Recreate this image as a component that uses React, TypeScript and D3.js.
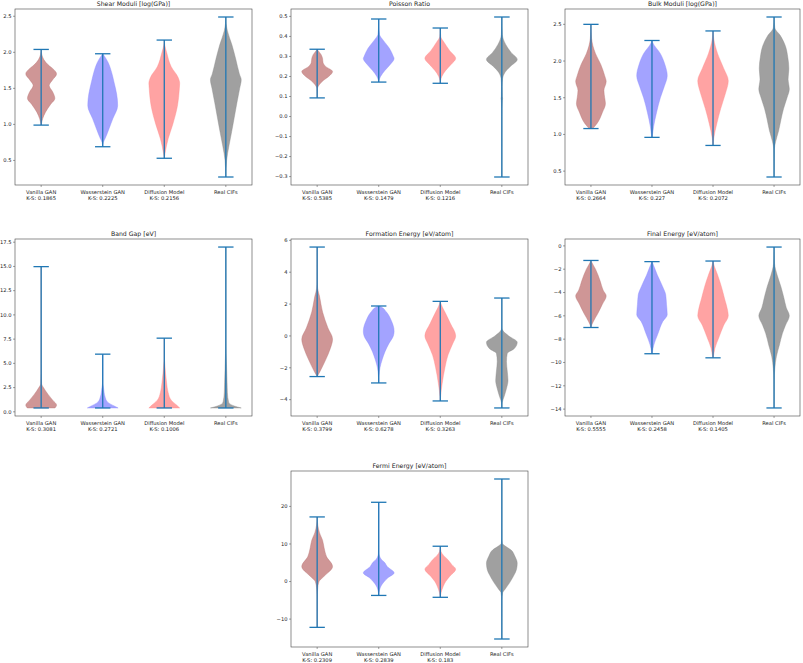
import React from 'react';
import * as d3 from 'd3';

const categories = ['Vanilla GAN', 'Wasserstein GAN', 'Diffusion Model', 'Real CIFs'];
const fillColors = ['#cf9696', '#a3a3ff', '#ffa3a3', '#a0a0a0'];
const edgeColors = ['#b87474', '#8a8aff', '#ff8a8a', '#8a8a8a'];
const lineColor = '#1f77b4';

// ---- Shear Moduli ----
const shearKS = ['0.1865', '0.2225', '0.2156'];
const shearCaps = [[0.99, 2.04], [0.69, 1.98], [0.53, 2.17], [0.27, 2.49]];
const shearTicks = [0.5, 1.0, 1.5, 2.0, 2.5];
const shearProfiles = [
  [[0.99, 0], [1.08, 0.1], [1.17, 0.28], [1.28, 0.62], [1.36, 0.89], [1.45, 0.75], [1.54, 0.52], [1.62, 0.75], [1.70, 1.0], [1.78, 0.72], [1.81, 0.54], [1.90, 0.17], [1.97, 0.04], [2.04, 0]],
  [[0.69, 0], [0.75, 0.04], [0.81, 0.17], [0.94, 0.41], [1.08, 0.66], [1.26, 0.97], [1.35, 0.95], [1.49, 0.84], [1.60, 0.72], [1.72, 0.58], [1.86, 0.35], [1.95, 0.1], [1.98, 0]],
  [[0.53, 0], [0.6, 0.05], [0.8, 0.25], [1.0, 0.55], [1.25, 0.85], [1.5, 0.98], [1.57, 1.0], [1.65, 0.9], [1.8, 0.45], [2.0, 0.15], [2.1, 0.03], [2.17, 0]],
  [[0.27, 0], [0.5, 0.05], [0.7, 0.2], [0.9, 0.38], [1.1, 0.55], [1.3, 0.72], [1.5, 0.9], [1.62, 1.0], [1.7, 0.88], [1.9, 0.65], [2.1, 0.4], [2.3, 0.1], [2.4, 0.02], [2.49, 0]],
];

// ---- Poisson Ratio ----
const poissonKS = ['0.5385', '0.1479', '0.1216'];
const poissonCaps = [[0.093, 0.336], [0.172, 0.487], [0.166, 0.442], [-0.302, 0.497]];
const poissonTicks = [-0.3, -0.2, -0.1, 0.0, 0.1, 0.2, 0.3, 0.4, 0.5];
const poissonProfiles = [
  [[0.093, 0], [0.14, 0.02], [0.16, 0.15], [0.18, 0.4], [0.2, 0.75], [0.225, 1.0], [0.25, 0.55], [0.27, 0.38], [0.29, 0.35], [0.31, 0.25], [0.33, 0.05], [0.336, 0]],
  [[0.172, 0], [0.18, 0.02], [0.2, 0.12], [0.23, 0.4], [0.26, 0.75], [0.29, 1.0], [0.30, 0.95], [0.34, 0.7], [0.38, 0.3], [0.41, 0.05], [0.45, 0.01], [0.487, 0]],
  [[0.166, 0], [0.18, 0.02], [0.2, 0.1], [0.23, 0.35], [0.26, 0.7], [0.29, 1.0], [0.33, 0.6], [0.37, 0.25], [0.40, 0.03], [0.442, 0]],
  [[-0.302, 0], [0.0, 0.005], [0.08, 0.03], [0.09, 0.05], [0.1, 0.03], [0.15, 0.02], [0.19, 0.05], [0.22, 0.2], [0.25, 0.55], [0.285, 1.0], [0.32, 0.6], [0.36, 0.25], [0.41, 0.03], [0.497, 0]],
];

// ---- Bulk Moduli ----
const bulkKS = ['0.2664', '0.227', '0.2072'];
const bulkCaps = [[1.08, 2.50], [0.96, 2.28], [0.85, 2.41], [0.42, 2.60]];
const bulkTicks = [0.5, 1.0, 1.5, 2.0, 2.5];
const bulkProfiles = [
  [[1.08, 0.12], [1.15, 0.4], [1.3, 0.75], [1.42, 0.95], [1.5, 0.9], [1.6, 0.85], [1.72, 1.0], [1.8, 0.9], [1.95, 0.65], [2.1, 0.3], [2.31, 0.04], [2.5, 0]],
  [[0.96, 0], [0.98, 0.02], [1.1, 0.1], [1.3, 0.3], [1.5, 0.55], [1.65, 0.8], [1.8, 1.0], [1.95, 0.85], [2.1, 0.55], [2.25, 0.05], [2.28, 0]],
  [[0.85, 0], [0.95, 0.05], [1.15, 0.25], [1.35, 0.5], [1.55, 0.8], [1.73, 1.0], [1.9, 0.7], [2.1, 0.3], [2.3, 0.05], [2.41, 0]],
  [[0.42, 0], [0.8, 0.02], [0.9, 0.1], [1.05, 0.3], [1.2, 0.45], [1.35, 0.62], [1.5, 0.85], [1.62, 1.0], [1.75, 0.92], [1.9, 0.97], [2.05, 0.9], [2.2, 0.75], [2.35, 0.4], [2.45, 0.05], [2.6, 0]],
];

// ---- Band Gap ----
const bandKS = ['0.3081', '0.2721', '0.1006'];
const bandCaps = [[0.4, 14.98], [0.4, 5.95], [0.4, 7.6], [0.4, 17.0]];
const bandTicks = [0.0, 2.5, 5.0, 7.5, 10.0, 12.5, 15.0, 17.5];
const bandProfiles = [
  [[0.4, 0.9], [0.7, 1.0], [1.2, 0.75], [1.8, 0.45], [2.5, 0.15], [2.9, 0.03], [5, 0.003], [14.98, 0]],
  [[0.4, 1.0], [0.6, 0.75], [1.0, 0.32], [1.5, 0.16], [2.5, 0.05], [3.0, 0.01], [5.95, 0]],
  [[0.4, 1.0], [0.7, 0.8], [1.2, 0.45], [2.0, 0.25], [3.0, 0.15], [4.0, 0.08], [5.0, 0.03], [5.5, 0.005], [7.6, 0]],
  [[0.4, 1.0], [0.6, 0.55], [1.0, 0.18], [2.0, 0.1], [3.0, 0.08], [4.5, 0.05], [6, 0.02], [8, 0.002], [17.0, 0]],
];

// ---- Formation Energy ----
const formKS = ['0.3799', '0.6278', '0.3263'];
const formCaps = [[-2.55, 5.58], [-2.95, 1.88], [-4.08, 2.17], [-4.52, 2.38]];
const formTicks = [-4, -2, 0, 2, 4, 6];
const formProfiles = [
  [[-2.55, 0], [-2.5, 0.03], [-2.2, 0.2], [-1.5, 0.55], [-0.8, 0.85], [-0.2, 1.0], [0.5, 0.7], [1.5, 0.35], [2.5, 0.15], [3.0, 0.03], [3.5, 0.005], [5.58, 0]],
  [[-2.95, 0], [-2.5, 0.02], [-2.0, 0.08], [-1.5, 0.22], [-1.0, 0.4], [-0.5, 0.65], [0.0, 0.95], [0.3, 1.0], [1.0, 0.8], [1.5, 0.5], [1.85, 0.1], [1.88, 0]],
  [[-4.08, 0], [-3.8, 0.02], [-3.0, 0.12], [-2.0, 0.3], [-1.2, 0.5], [-0.5, 0.8], [0.0, 1.0], [0.8, 0.65], [1.5, 0.3], [2.0, 0.05], [2.17, 0]],
  [[-4.52, 0], [-4.2, 0.02], [-3.8, 0.15], [-3.3, 0.3], [-2.8, 0.4], [-2.2, 0.35], [-1.6, 0.3], [-1.1, 0.35], [-0.8, 0.8], [-0.4, 1.0], [0.0, 0.45], [0.4, 0.03], [0.6, 0], [2.38, 0]],
];

// ---- Final Energy ----
const finalKS = ['0.5555', '0.2458', '0.1405'];
const finalCaps = [[-7.0, -1.25], [-9.25, -1.35], [-9.6, -1.3], [-13.9, -0.1]];
const finalTicks = [-14, -12, -10, -8, -6, -4, -2, 0];
const finalProfiles = [
  [[-7.0, 0], [-6.9, 0.02], [-6.5, 0.15], [-5.8, 0.45], [-5.0, 0.75], [-4.3, 1.0], [-3.8, 0.8], [-3.0, 0.6], [-2.0, 0.3], [-1.4, 0.05], [-1.25, 0]],
  [[-9.25, 0], [-9.1, 0.02], [-8.5, 0.12], [-7.5, 0.4], [-6.5, 0.7], [-5.9, 1.0], [-5.0, 0.95], [-4.2, 0.9], [-3.5, 0.7], [-2.5, 0.35], [-1.5, 0.05], [-1.35, 0]],
  [[-9.6, 0], [-9.5, 0.02], [-8.8, 0.12], [-7.8, 0.4], [-6.8, 0.7], [-6.0, 1.0], [-5.5, 0.95], [-4.5, 0.75], [-3.5, 0.55], [-2.5, 0.3], [-1.5, 0.03], [-1.3, 0]],
  [[-13.9, 0], [-11.5, 0.01], [-10.5, 0.05], [-9.5, 0.15], [-8.5, 0.35], [-7.5, 0.55], [-6.8, 0.75], [-6.0, 1.0], [-5.3, 0.8], [-4.5, 0.65], [-3.5, 0.45], [-2.5, 0.2], [-1.5, 0.03], [-0.1, 0]],
];

// ---- Fermi Energy ----
const fermiKS = ['0.2309', '0.2839', '0.183'];
const fermiCaps = [[-12.2, 17.2], [-3.7, 21.1], [-4.2, 9.4], [-15.3, 27.3]];
const fermiTicks = [-10, 0, 10, 20];
const fermiProfiles = [
  [[-12.2, 0], [-5, 0.005], [-2, 0.03], [0, 0.12], [1.4, 0.45], [4, 1.0], [6.7, 0.6], [9, 0.45], [11, 0.35], [13, 0.15], [15, 0.04], [17.2, 0]],
  [[-3.7, 0], [-3, 0.02], [-1.2, 0.15], [1, 0.6], [2.3, 1.0], [4, 0.55], [5, 0.4], [6, 0.15], [7.5, 0.02], [10, 0.003], [21.1, 0]],
  [[-4.2, 0], [-3, 0.05], [-1.2, 0.2], [0, 0.35], [1.4, 0.62], [3.3, 1.0], [4.5, 0.75], [5.8, 0.5], [7, 0.2], [8, 0.05], [9.4, 0]],
  [[-15.3, 0], [-5, 0.01], [-3, 0.05], [-2.1, 0.2], [-0.35, 0.5], [1.4, 0.75], [3.2, 0.95], [4.9, 1.0], [6.7, 0.85], [8.4, 0.6], [9.5, 0.2], [10.2, 0.03], [12, 0.003], [27.3, 0]],
];

const titles = [
  'Shear Moduli [log(GPa)]', 'Poisson Ratio', 'Bulk Moduli [log(GPa)]',
  'Band Gap [eV]', 'Formation Energy [eV/atom]', 'Final Energy [eV/atom]',
  'Fermi Energy [eV/atom]',
];

const panelData = [
  { ks: shearKS, caps: shearCaps, ticks: shearTicks, profiles: shearProfiles, fmt: '.1f' },
  { ks: poissonKS, caps: poissonCaps, ticks: poissonTicks, profiles: poissonProfiles, fmt: '.1f' },
  { ks: bulkKS, caps: bulkCaps, ticks: bulkTicks, profiles: bulkProfiles, fmt: '.1f' },
  { ks: bandKS, caps: bandCaps, ticks: bandTicks, profiles: bandProfiles, fmt: '.1f' },
  { ks: formKS, caps: formCaps, ticks: formTicks, profiles: formProfiles, fmt: 'd' },
  { ks: finalKS, caps: finalCaps, ticks: finalTicks, profiles: finalProfiles, fmt: 'd' },
  { ks: fermiKS, caps: fermiCaps, ticks: fermiTicks, profiles: fermiProfiles, fmt: 'd' },
];

// layout boxes [left, top, right, bottom]
const boxes = [
  [15, 9, 252, 185], [291, 9, 528, 185], [565, 9, 800, 185],
  [15, 239, 252, 416], [291, 239, 528, 416], [565, 239, 800, 416],
  [291, 471, 528, 647],
];

const FONT = 'DejaVu Sans, sans-serif';
const TICK_FS = 5.2;
const TITLE_FS = 6.2;

function Panel({ idx }: { idx: number }) {
  const p = panelData[idx];
  const [l, t, r, b] = boxes[idx];
  const positions = [1, 2, 3, 4];
  const x = d3.scaleLinear().domain([0.575, 4.425]).range([l, r]);
  const lo = d3.min(p.caps, (c) => c[0]) as number;
  const hi = d3.max(p.caps, (c) => c[1]) as number;
  const m = (hi - lo) * 0.05;
  const y = d3.scaleLinear().domain([lo - m, hi + m]).range([b, t]);
  const half = 0.25;
  const capHalf = 0.125;
  const fmt = d3.format(p.fmt);

  return (
    <g>
      {p.profiles.map((prof, i) => {
        const c = positions[i];
        const area = d3
          .area<number[]>()
          .y((d) => y(d[0]))
          .x0((d) => x(c - half * d[1]))
          .x1((d) => x(c + half * d[1]))
          .curve(d3.curveMonotoneY);
        return (
          <path
            key={'v' + i}
            d={area(prof as number[][]) || ''}
            fill={fillColors[i]}
            stroke={edgeColors[i]}
            strokeWidth={0.4}
          />
        );
      })}
      {p.caps.map((cp, i) => {
        const c = positions[i];
        return (
          <g key={'c' + i} stroke={lineColor} strokeWidth={1.3}>
            <line x1={x(c)} x2={x(c)} y1={y(cp[0])} y2={y(cp[1])} />
            <line x1={x(c - capHalf)} x2={x(c + capHalf)} y1={y(cp[0])} y2={y(cp[0])} />
            <line x1={x(c - capHalf)} x2={x(c + capHalf)} y1={y(cp[1])} y2={y(cp[1])} />
          </g>
        );
      })}
      <rect x={l} y={t} width={r - l} height={b - t} fill="none" stroke="#444" strokeWidth={0.6} />
      {p.ticks.map((v) => (
        <g key={'y' + v}>
          <line x1={l - 2} x2={l} y1={y(v)} y2={y(v)} stroke="#444" strokeWidth={0.5} />
          <text
            x={l - 3.5}
            y={y(v)}
            dy="0.35em"
            textAnchor="end"
            fontSize={TICK_FS}
            fontFamily={FONT}
            fill="#222"
          >
            {fmt(v)}
          </text>
        </g>
      ))}
      {positions.map((c, i) => (
        <g key={'x' + i}>
          <line x1={x(c)} x2={x(c)} y1={b} y2={b + 2} stroke="#444" strokeWidth={0.5} />
          <text x={x(c)} y={b + 9.2} textAnchor="middle" fontSize={TICK_FS} fontFamily={FONT} fill="#222">
            {categories[i]}
          </text>
          {i < 3 && (
            <text x={x(c)} y={b + 14.6} textAnchor="middle" fontSize={TICK_FS} fontFamily={FONT} fill="#222">
              {'K-S: ' + p.ks[i]}
            </text>
          )}
        </g>
      ))}
      <text x={(l + r) / 2} y={t - 3} textAnchor="middle" fontSize={TITLE_FS} fontFamily={FONT} fill="#222">
        {titles[idx]}
      </text>
    </g>
  );
}

export default function App() {
  return (
    <svg
      width={803}
      height={663}
      style={{ position: 'absolute', left: 0, top: 0, background: '#fff' }}
    >
      <rect x={0} y={0} width={803} height={663} fill="#fff" />
      {panelData.map((_, i) => (
        <Panel key={i} idx={i} />
      ))}
    </svg>
  );
}
